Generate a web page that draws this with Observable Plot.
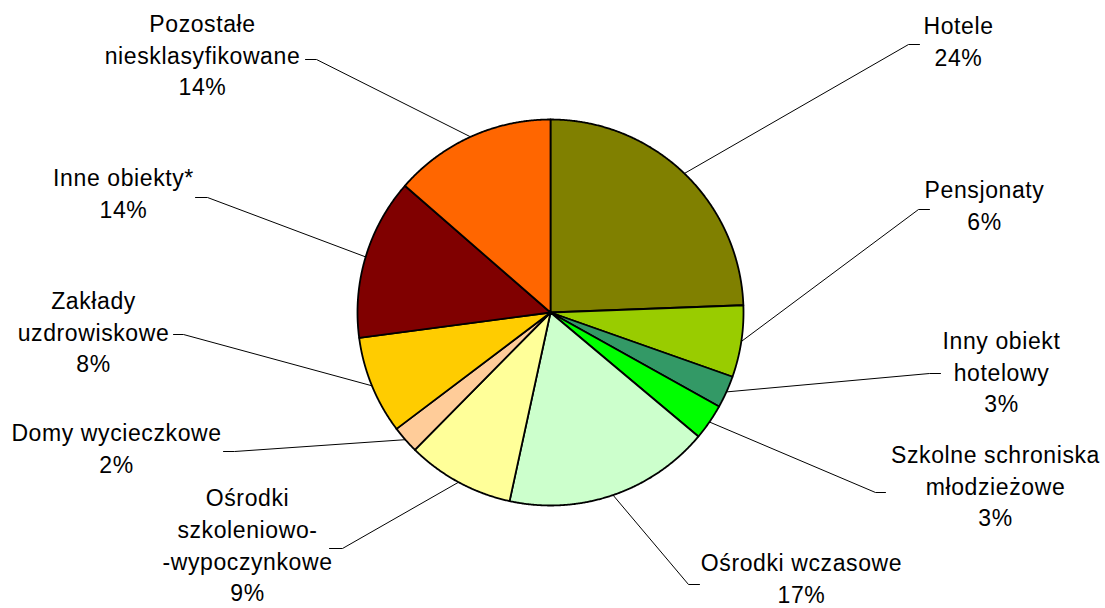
<!DOCTYPE html>
<html><head><meta charset="utf-8">
<script src="https://cdn.jsdelivr.net/npm/d3@7"></script>
<script src="https://cdn.jsdelivr.net/npm/@observablehq/plot@0.6"></script>
<style>html,body{margin:0;padding:0;background:#fff} svg text{letter-spacing:0.6px}</style>
</head><body><div id="chart"></div>
<script>
// ---- data ----
const categories = ["Hotele","Pensjonaty","Inny obiekt hotelowy","Szkolne schroniska młodzieżowe","Ośrodki wczasowe","Ośrodki szkoleniowo-wypoczynkowe","Domy wycieczkowe","Zakłady uzdrowiskowe","Inne obiekty*","Pozostałe niesklasyfikowane"];
const labelLines = [["Hotele"],["Pensjonaty"],["Inny obiekt","hotelowy"],["Szkolne schroniska","młodzieżowe"],["Ośrodki wczasowe"],["Ośrodki","szkoleniowo-","-wypoczynkowe"],["Domy wycieczkowe"],["Zakłady","uzdrowiskowe"],["Inne obiekty*"],["Pozostałe","niesklasyfikowane"]];
const shares = [24.4, 6.0, 2.7, 3.0, 17.3, 9.0, 2.3, 8.2, 13.5, 13.6];
const colors = ["#808000","#99CC00","#339966","#00FF00","#CCFFCC","#FFFF99","#FFCC99","#FFCC00","#800000","#FF6600"];

// ---- layout ----
const W = 1105, H = 608, cx = 550, cy = 312, R = 193;
const labelCenter = [[958,39],[984,203],[1001,370],[995,484],[801,576],[247,543],[116,446],[93,330],[123,191],[202,53]];
const leaderElbow = [[908,44,919],[918,209,929],[929,373,940],[875,492,885],[688,584,699],[342,548,329],[234,451,223],[183,334,173],[207,197,195],[316,59,305]];

const total = d3.sum(shares);
const slicePts = [], leaderPts = [], labels = [];
let cum = 0;
const pt = (a, r) => [cx + r * Math.sin(a), cy - r * Math.cos(a)];
shares.forEach((v, i) => {
  const a0 = cum / total * 2 * Math.PI;
  cum += v;
  const a1 = cum / total * 2 * Math.PI;
  const name = categories[i], color = colors[i];
  slicePts.push({name, color, x: cx, y: cy});
  const n = Math.max(2, Math.ceil((a1 - a0) / 0.005));
  for (let k = 0; k <= n; k++) {
    const [x, y] = pt(a0 + (a1 - a0) * k / n, R);
    slicePts.push({name, color, x, y});
  }
  slicePts.push({name, color, x: cx, y: cy});
  const [ex, ey] = pt((a0 + a1) / 2, R);
  const [bx, by, tx] = leaderElbow[i];
  leaderPts.push({name, x: ex, y: ey}, {name, x: bx, y: by}, {name, x: tx, y: by});
  labels.push({name, x: labelCenter[i][0], y: labelCenter[i][1], text: labelLines[i].join("\n") + "\n" + Math.round(v) + "%"});
});

const chart = Plot.plot({
  width: W, height: H,
  marginTop: 0, marginRight: 0, marginBottom: 0, marginLeft: 0,
  x: {domain: [0, W], range: [0, W], axis: null},
  y: {domain: [0, H], range: [0, H], axis: null},
  color: {type: "identity"},
  style: {background: "#fff", fontFamily: "'Liberation Sans', Arial, sans-serif"},
  marks: [
    Plot.line(leaderPts, {x: "x", y: "y", z: "name", stroke: "#000", strokeWidth: 1, curve: "linear"}),
    Plot.line(slicePts, {x: "x", y: "y", z: "name", fill: "color", stroke: "#000", strokeWidth: 1.8, strokeLinejoin: "round", curve: "linear"}),
    Plot.text(labels, {x: "x", y: "y", text: "text", textAnchor: "middle", lineAnchor: "middle", lineHeight: 1.38, fontSize: 23, fill: "#000", fontFamily: "'Liberation Sans', Arial, sans-serif"})
  ]
});
document.getElementById("chart").appendChild(chart);
</script>
</body></html>
